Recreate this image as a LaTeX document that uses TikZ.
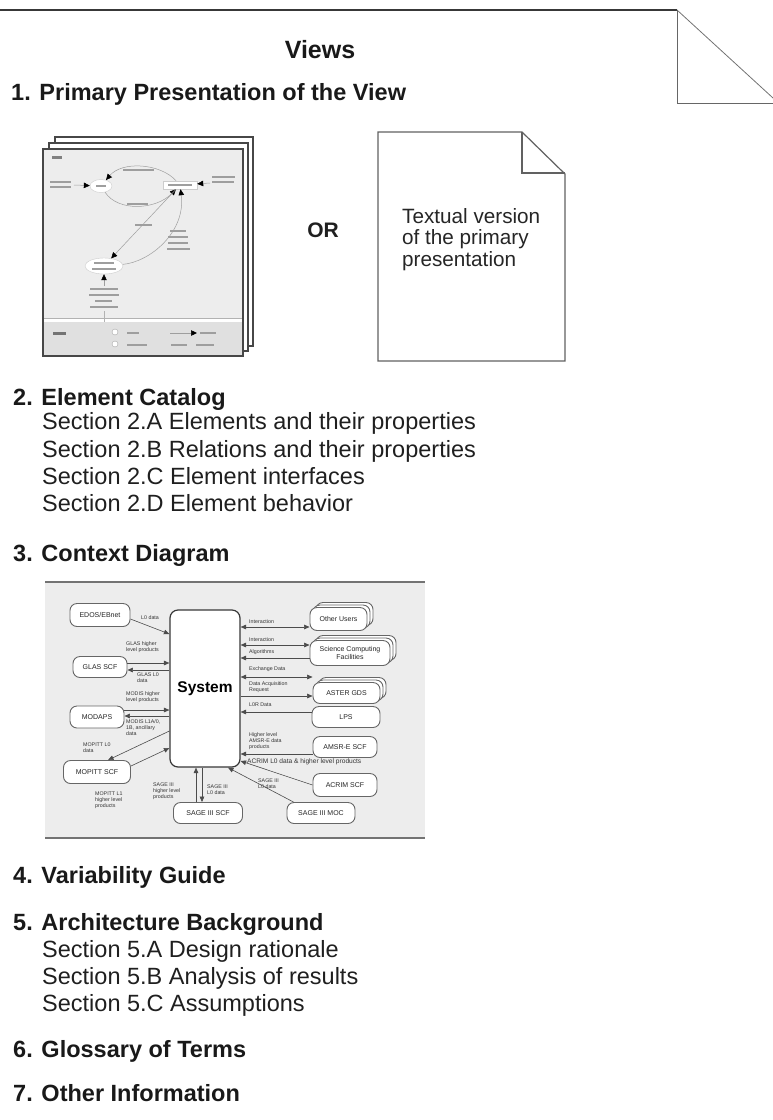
\documentclass[tikz,border=0pt]{standalone}
\usepackage{fontspec}
\setmainfont{Liberation Sans}
\usetikzlibrary{arrows.meta,shapes.geometric,shadows}

% a short grey bar standing for a line of tiny thumbnail lettering
\newcommand\thbar[3]{\fill[black!38] (#1,#3-0.9) rectangle (#2,#3+0.9);}

\tikzset{
  hd/.style={anchor=base west, inner sep=0pt, font=\fontsize{23.5}{27}\selectfont\bfseries, text=black!90},
  sec/.style={anchor=base west, inner sep=0pt, font=\fontsize{23.5}{27}\selectfont, text=black!88},
  page/.style={draw=black!72, line width=1.2pt, fill=white},
  docline/.style={draw=black!62, line width=1.2pt, line join=miter},
  ext/.style={draw=black!60, fill=white, rounded corners=7pt, line width=0.9pt, inner sep=1pt,
              font=\fontsize{7}{7.6}\selectfont, align=center, text=black!85},
  stack/.style={copy shadow={shadow xshift=6pt, shadow yshift=5pt, draw=black!60, fill=white, line width=0.9pt},
                copy shadow={shadow xshift=3pt, shadow yshift=2.5pt, draw=black!60, fill=white, line width=0.9pt}},
  sysbox/.style={draw=black!78, fill=white, rounded corners=8pt, line width=1.2pt,
                 minimum width=70pt, minimum height=157pt, font=\fontsize{15.5}{16}\selectfont\bfseries},
  flow/.style={draw=black!70, line width=0.6pt},
  lab/.style={inner sep=0pt, font=\fontsize{5.3}{6}\selectfont, align=left, anchor=west, text=black!80},
  thnode/.style={draw=black!20, fill=white, line width=0.4pt, inner sep=0pt},
  thl/.style={draw=black!38, line width=0.5pt, -{Triangle[length=6pt,width=5.5pt,color=black]}},
}

\begin{document}
\begin{tikzpicture}[x=1pt,y=-1pt,>={Triangle[length=5.5pt,width=4.6pt]}]
\useasboundingbox (0,0) rectangle (773,1120);

% ---- page outline with the folded corner ----
\draw[black!78,line width=2.4pt] (0,10) -- (677,10);
\draw[black!55,line width=0.8pt] (677,10) -- (773,98);
\draw[black!60,line width=1pt] (677,10) -- (677,103) -- (773,103);

\node[font=\fontsize{25}{28}\selectfont\bfseries, anchor=base, inner sep=0pt, text=black!90] (views) at (320,58) {Views};
\node[hd] (h1) at (11,100) {1. Primary Presentation of the View};

% ---- thumbnail of a graphical primary presentation (three stacked sheets) ----
\draw[page] (55,137) rectangle (253,346);
\draw[page] (49,143) rectangle (248,351);
\fill[white] (43,149) rectangle (243,356);
\fill[black!7] (43,149) rectangle (243,318);
\draw[black!30,line width=0.5pt] (43,318) -- (243,318);
\fill[black!12] (43,322) rectangle (243,356);
\draw[page,fill=none] (43,149) rectangle (243,356);
\fill[black!50] (52,156) rectangle (62,158.5);

\node[thnode, ellipse, minimum width=22pt, minimum height=13pt] (tidle) at (101,186) {};
\node[thnode, minimum width=34pt, minimum height=8pt] (tright) at (180,185) {};
\node[thnode, ellipse, minimum width=38pt, minimum height=16pt] (tbottom) at (104,266) {};
\coordinate (tin) at (74,185);
\coordinate (trin) at (210,183);
\coordinate (tbin) at (104,286);
\coordinate (tbout) at (104,311);
\coordinate (tkey) at (104,322);

\draw[thl] (tin) -- (tidle);
\draw[thl] (tright) .. controls (160,163) and (122,161) .. (tidle);
\draw[thl] (tidle) .. controls (118,212) and (156,210) .. (tright);
\draw[thl] (trin) -- (tright);
\draw[thl] (tright) -- (tbottom);
\draw[thl] (tbottom) .. controls (150,262) and (186,232) .. (tright);
\draw[thl] (tbin) -- (tbottom);
\draw[draw=black!30, line width=0.5pt] (tbout) -- (tkey);

\thbar{96}{106}{186}
\thbar{168}{192}{185}
\thbar{94}{114}{263} \thbar{92}{116}{269}
\thbar{50}{71}{182} \thbar{50}{71}{187}
\thbar{123}{154}{170}
\thbar{127}{148}{204}
\thbar{212}{235}{177} \thbar{212}{234}{182}
\thbar{135}{152}{225}
\thbar{170}{186}{231} \thbar{168}{188}{237} \thbar{168}{188}{243} \thbar{167}{190}{249}
\thbar{90}{118}{289} \thbar{89}{119}{295} \thbar{95}{112}{301} \thbar{90}{118}{307}

% key of the thumbnail
\fill[black!55] (53,331.5) rectangle (66,334.5);
\node[thnode, draw=black!35, circle, minimum size=6pt] (tk1) at (115,332) {};
\node[thnode, draw=black!35, circle, minimum size=6pt] (tk2) at (115,344) {};
\coordinate (tka) at (170,333);
\coordinate (tkb) at (197,333);
\draw[thl] (tka) -- (tkb);
\thbar{127}{139}{333} \thbar{127}{147}{345}
\thbar{200}{216}{333} \thbar{171}{187}{345} \thbar{196}{214}{345}

\node[font=\fontsize{21}{24}\selectfont\bfseries, inner sep=0pt, text=black!88] (or) at (323,230) {OR};

% ---- textual primary presentation (sheet with a dog-ear) ----
\draw[docline, fill=white] (378,132) -- (522,132) -- (565,174) -- (565,361) -- (378,361) -- cycle;
\draw[docline] (522,132) -- (522,173) -- (565,173);
\node[anchor=north west, inner sep=0pt, align=left, font=\fontsize{20.7}{21.7}\selectfont, text=black!85] (doctext) at (402,208)
  {Textual version\\of the primary\\presentation};

% ---- element catalog ----
\node[hd] (h2) at (13,405) {2. Element Catalog};
\node[sec] (s2a) at (42,429) {Section 2.A Elements and their properties};
\node[sec] (s2b) at (42,457) {Section 2.B Relations and their properties};
\node[sec] (s2c) at (42,484) {Section 2.C Element interfaces};
\node[sec] (s2d) at (42,511) {Section 2.D Element behavior};

\node[hd] (h3) at (13,561) {3. Context Diagram};

% ---- context diagram ----
\fill[black!7] (45,582) rectangle (425,838);
\draw[black!55,line width=1.2pt] (45,582) -- (425,582);
\draw[black!55,line width=1.2pt] (45,838) -- (425,838);

\node[sysbox] (system) at (205,688.5) {System};

\node[ext, minimum width=60pt, minimum height=23pt] (edos) at (100,615) {EDOS/EBnet};
\node[ext, minimum width=54pt, minimum height=21pt] (glas) at (100,667) {GLAS SCF};
\node[ext, minimum width=54pt, minimum height=22pt] (modaps) at (97,717) {MODAPS};
\node[ext, minimum width=67pt, minimum height=23pt] (mopitt) at (97,772) {MOPITT SCF};
\node[ext, minimum width=69pt, minimum height=21pt] (sagescf) at (208,813) {SAGE III SCF};
\node[ext, minimum width=68pt, minimum height=21pt] (sagemoc) at (321,813) {SAGE III MOC};

\node[ext, stack, minimum width=57pt, minimum height=23pt] (users) at (338.5,619) {Other Users};
\node[ext, stack, minimum width=80pt, minimum height=25pt] (scf) at (350,653) {Science Computing\\Facilities};
\node[ext, stack, minimum width=67pt, minimum height=21pt] (aster) at (346.5,693) {ASTER GDS};
\node[ext, minimum width=68pt, minimum height=21pt] (lps) at (346,717) {LPS};
\node[ext, minimum width=64pt, minimum height=21pt] (amsr) at (345,747) {AMSR-E SCF};
\node[ext, minimum width=64pt, minimum height=23pt] (acrim) at (345,785) {ACRIM SCF};

% flows on the left
\draw[flow,->] ([yshift=-4pt]edos.east) -- (system.west |- 0,634);
\draw[flow,->] (glas.east |- 0,663) -- (system.west |- 0,663);
\draw[flow,->] (system.west |- 0,670) -- (glas.east |- 0,670);
\draw[flow,->] (modaps.east |- 0,710) -- (system.west |- 0,710);
\draw[flow,->] (system.west |- 0,716) -- (modaps.east |- 0,716);
\draw[flow,->] (system.west |- 0,731) -- ([xshift=11pt]mopitt.north);
\draw[flow,->] ([yshift=6pt]mopitt.east) -- (system.west |- 0,748);
% flows at the bottom
\draw[flow,->] (sagescf.north -| 196,0) -- (system.south -| 196,0);
\draw[flow,->] (system.south -| 202,0) -- (sagescf.north -| 202,0);
\draw[flow,->] ([xshift=7pt]sagemoc.north west) -- (system.south -| 228,0);
\draw[flow,->] (acrim.west) -- (system.east |- 0,761);
% flows on the right
\draw[flow,<->] (system.east |- 0,627) -- (users.west |- 0,627);
\draw[flow,<->] (system.east |- 0,645) -- (scf.west |- 0,645);
\draw[flow,->] (scf.west |- 0,658) -- (system.east |- 0,658);
\draw[flow,<->] (system.east |- 0,677) -- (aster.west |- 0,677);
\draw[flow,->] (system.east |- 0,696) -- (aster.west |- 0,696);
\draw[flow,->] (lps.west |- 0,712) -- (system.east |- 0,712);
\draw[flow,->] (amsr.west |- 0,754) -- (system.east |- 0,754);

% flow labels
\node[lab] (cl1) at (141,618) {L0 data};
\node[lab] (cl2) at (126,647) {GLAS higher\\level products};
\node[lab] (cl3) at (137,678) {GLAS L0\\data};
\node[lab] (cl4) at (126,697) {MODIS higher\\level products};
\node[lab] (cl5) at (126,728) {MODIS L1A/0,\\1B, ancillary\\data};
\node[lab] (cl6) at (83,748) {MOPITT L0\\data};
\node[lab] (cl7) at (95,800) {MOPITT L1\\higher level\\products};
\node[lab] (cl8) at (153,791) {SAGE III\\higher level\\products};
\node[lab] (cl9) at (207,790) {SAGE III\\L0 data};
\node[lab] (cl10) at (258,784) {SAGE III\\L0 data};
\node[lab, font=\fontsize{6.6}{7}\selectfont] (cl11) at (247,762) {ACRIM L0 data \& higher level products};
\node[lab] (cr1) at (249,622) {Interaction};
\node[lab] (cr2) at (249,640) {Interaction};
\node[lab] (cr3) at (249,652) {Algorithms};
\node[lab] (cr4) at (249,669) {Exchange Data};
\node[lab] (cr5) at (249,687) {Data Acquisition\\Request};
\node[lab] (cr6) at (249,705) {L0R Data};
\node[lab] (cr7) at (249,741) {Higher level\\AMSR-E data\\products};

% ---- remaining sections ----
\node[hd] (h4) at (13,883) {4. Variability Guide};
\node[hd] (h5) at (13,930) {5. Architecture Background};
\node[sec] (s5a) at (42,957) {Section 5.A Design rationale};
\node[sec] (s5b) at (42,984) {Section 5.B Analysis of results};
\node[sec] (s5c) at (42,1011) {Section 5.C Assumptions};
\node[hd] (h6) at (13,1057) {6. Glossary of Terms};
\node[hd] (h7) at (13,1101) {7. Other Information};
\end{tikzpicture}
\end{document}
